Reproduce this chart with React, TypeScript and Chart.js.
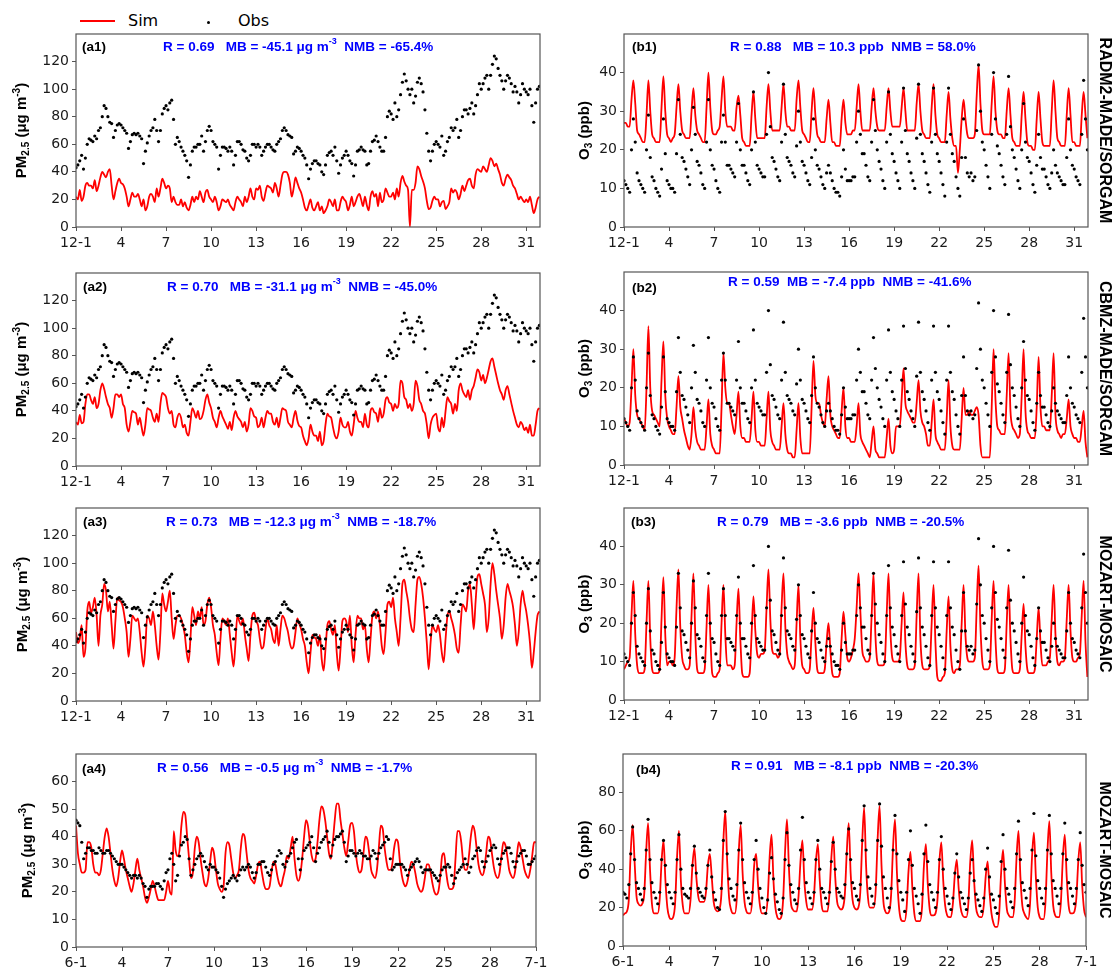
import React, { useEffect, useRef } from "react";
import { Chart, registerables } from "chart.js";

Chart.register(...registerables);

// ---------- data (3-hourly values, hours 0,3,...,21 of each day) ----------
const STEP_H = 3;
const DEC_XMAX = 742;
const JUN_XMAX = 720;
const X_TICK_VALUES = [0, 72, 144, 216, 288, 360, 432, 504, 576, 648, 720];
const DEC_TICK_LABELS = ["12-1", "4", "7", "10", "13", "16", "19", "22", "25", "28", "31"];
const JUN_TICK_LABELS = ["6-1", "4", "7", "10", "13", "16", "19", "22", "25", "28", "7-1"];
const PM_DEC_TICKS = [0, 20, 40, 60, 80, 100, 120];
const O3_DEC_TICKS = [0, 10, 20, 30, 40];
const PM_JUN_TICKS = [0, 10, 20, 30, 40, 50, 60];
const O3_JUN_TICKS = [0, 20, 40, 60, 80];

const PM_OBS_DEC = [
  43, 45, 48, 52, 42, 50, 60, 64,
  63, 62, 66, 64, 70, 72, 80, 88,
  86, 80, 76, 75, 65, 70, 74, 75,
  74, 72, 70, 68, 57, 62, 67, 68,
  67, 68, 66, 64, 46, 55, 61, 66,
  70, 72, 78, 70, 62, 70, 82, 86,
  88, 85, 90, 92, 78, 60, 65, 62,
  58, 55, 52, 48, 36, 45, 55, 58,
  58, 60, 60, 66, 55, 62, 70, 73,
  70, 62, 60, 58, 42, 52, 58, 58,
  57, 55, 58, 55, 45, 52, 62, 62,
  60, 56, 55, 50, 48, 52, 60, 60,
  58, 60, 58, 52, 55, 58, 60, 60,
  58, 56, 55, 60, 62, 64, 70, 72,
  70, 67, 66, 65, 53, 55, 58, 57,
  55, 52, 50, 45, 35, 42, 46, 48,
  48, 46, 45, 40, 38, 45, 52, 54,
  55, 52, 58, 48, 39, 45, 50, 52,
  55, 52, 48, 46, 37, 45, 55, 56,
  58, 56, 55, 45, 46, 55, 62, 63,
  66, 62, 58, 55, 55, 65, 80, 84,
  82, 78, 90, 80, 85, 96, 105, 111,
  106, 100, 96, 100, 90, 95, 105, 108,
  104, 98, 85, 68, 55, 48, 55, 60,
  62, 60, 58, 66, 52, 55, 62, 65,
  72, 70, 72, 78, 65, 70, 80, 85,
  85, 82, 86, 90, 82, 88, 96, 104,
  100, 104, 108, 110, 100, 110, 118, 124,
  122, 115, 110, 106, 100, 106, 110, 108,
  104, 98, 102, 98, 90, 96, 104, 100,
  98, 96, 100, 88, 76, 90, 100, 102,
];

const PM_SIM_RADM2 = [
  22, 20, 27, 19, 22, 30, 32, 30,
  30, 28, 34, 26, 30, 36, 40, 38,
  36, 40, 42, 30, 20, 26, 32, 35,
  32, 31, 28, 22, 15, 20, 25, 22,
  22, 24, 20, 15, 20, 12, 15, 22,
  24, 22, 18, 28, 22, 28, 35, 32,
  28, 30, 28, 18, 22, 18, 16, 16,
  20, 15, 18, 14, 12, 16, 22, 18,
  22, 20, 26, 22, 18, 25, 27, 22,
  20, 18, 22, 18, 12, 15, 20, 19,
  18, 20, 16, 14, 12, 18, 22, 20,
  18, 15, 22, 18, 22, 28, 22, 20,
  28, 27, 30, 22, 19, 25, 30, 29,
  28, 25, 32, 28, 22, 30, 38, 40,
  40, 38, 32, 22, 28, 36, 32, 28,
  25, 20, 14, 12, 16, 20, 14, 12,
  15, 18, 12, 15, 10, 12, 15, 20,
  18, 15, 20, 12, 12, 18, 22, 20,
  18, 12, 16, 22, 15, 18, 22, 24,
  20, 15, 22, 16, 12, 22, 26, 22,
  24, 15, 25, 18, 20, 28, 25, 22,
  22, 25, 20, 28, 22, 32, 37, 33,
  30, 27, 0, 27, 27, 32, 44, 42,
  37, 33, 28, 19, 13, 14, 19, 22,
  20, 20, 15, 18, 19, 13, 15, 18,
  28, 25, 27, 25, 20, 24, 30, 26,
  30, 34, 35, 30, 28, 38, 42, 41,
  40, 44, 42, 40, 45, 50, 48, 44,
  46, 42, 38, 32, 30, 35, 38, 36,
  34, 30, 28, 24, 20, 22, 20, 18,
  20, 18, 22, 16, 10, 14, 20, 22,
];

const PM_SIM_CBMZ = [
  32, 30, 37, 31, 32, 45, 52, 52,
  48, 45, 50, 42, 45, 55, 60, 56,
  50, 45, 42, 35, 42, 52, 52, 50,
  52, 45, 42, 30, 25, 32, 40, 39,
  38, 30, 35, 28, 22, 30, 42, 41,
  40, 35, 32, 38, 32, 45, 53, 52,
  50, 42, 38, 40, 30, 28, 35, 38,
  35, 28, 30, 24, 22, 32, 42, 39,
  35, 40, 34, 35, 40, 48, 52, 46,
  42, 35, 32, 28, 35, 40, 36, 33,
  30, 27, 32, 26, 35, 40, 36, 34,
  32, 28, 32, 25, 30, 42, 40, 36,
  35, 28, 30, 35, 28, 35, 40, 38,
  38, 32, 30, 35, 28, 35, 42, 41,
  40, 32, 30, 28, 35, 40, 33, 29,
  28, 22, 18, 15, 20, 30, 25, 22,
  22, 18, 25, 15, 18, 30, 38, 36,
  35, 28, 22, 20, 25, 35, 30, 28,
  28, 32, 25, 22, 30, 40, 35, 32,
  32, 28, 38, 30, 28, 40, 42, 39,
  38, 32, 42, 35, 38, 48, 50, 46,
  45, 40, 45, 42, 45, 62, 60, 50,
  48, 42, 45, 40, 45, 62, 58, 48,
  45, 40, 38, 30, 20, 30, 35, 37,
  38, 28, 25, 35, 28, 40, 50, 47,
  45, 38, 45, 40, 55, 60, 55, 52,
  50, 55, 48, 55, 58, 64, 70, 68,
  62, 66, 60, 64, 70, 76, 78, 72,
  66, 60, 55, 52, 48, 55, 58, 52,
  46, 40, 35, 30, 28, 32, 30, 26,
  28, 24, 30, 22, 22, 30, 40, 42,
];

const PM_SIM_MOZART = [
  50, 42, 45, 55, 32, 38, 65, 72,
  64, 68, 75, 62, 40, 62, 70, 85,
  80, 65, 72, 55, 38, 58, 75, 73,
  72, 68, 60, 50, 32, 45, 62, 60,
  58, 60, 50, 35, 25, 40, 62, 60,
  55, 65, 55, 40, 30, 50, 78, 70,
  65, 72, 80, 60, 45, 55, 62, 62,
  60, 55, 48, 35, 28, 45, 68, 62,
  55, 65, 60, 68, 55, 58, 70, 75,
  68, 55, 48, 35, 26, 45, 60, 58,
  55, 60, 48, 35, 25, 42, 62, 58,
  55, 60, 48, 38, 29, 48, 62, 64,
  58, 55, 45, 38, 40, 52, 60, 55,
  52, 45, 42, 55, 40, 52, 62, 60,
  55, 50, 42, 38, 40, 50, 60, 56,
  52, 45, 40, 28, 20, 35, 48, 46,
  45, 40, 48, 30, 22, 38, 55, 58,
  52, 48, 55, 35, 22, 38, 58, 60,
  58, 50, 62, 40, 28, 48, 62, 60,
  60, 52, 55, 38, 28, 45, 62, 65,
  60, 65, 55, 40, 34, 50, 70, 72,
  68, 75, 60, 50, 40, 60, 85, 88,
  80, 72, 60, 52, 50, 70, 88, 90,
  85, 75, 60, 42, 23, 42, 55, 52,
  50, 55, 48, 35, 28, 45, 62, 65,
  60, 55, 48, 38, 35, 55, 70, 68,
  65, 80, 85, 70, 52, 72, 90, 92,
  85, 78, 70, 50, 60, 85, 100, 92,
  80, 70, 60, 45, 55, 75, 85, 80,
  75, 68, 55, 40, 50, 70, 80, 72,
  65, 55, 42, 24, 35, 50, 62, 65,
];

const O3_OBS_DEC = [
  12, 11, 10, 9, 20, 28, 22, 14,
  12, 11, 10, 9, 20, 29, 18, 13,
  12, 10, 9, 8, 15, 28, 19, 12,
  11, 10, 10, 9, 19, 33, 24, 18,
  17, 15, 13, 11, 20, 31, 24, 17,
  16, 14, 11, 10, 22, 33, 20, 16,
  15, 12, 10, 9, 22, 29, 22, 16,
  16, 15, 14, 13, 22, 32, 20, 16,
  16, 14, 12, 11, 20, 35, 22, 16,
  15, 14, 13, 13, 24, 40, 26, 18,
  17, 15, 13, 12, 22, 37, 24, 18,
  17, 16, 14, 13, 21, 30, 22, 17,
  16, 14, 12, 11, 18, 28, 20, 16,
  15, 13, 11, 10, 14, 16, 14, 12,
  10, 9, 9, 8, 13, 20, 15, 12,
  12, 12, 13, 13, 22, 30, 24, 19,
  19, 16, 13, 12, 22, 33, 25, 20,
  17, 15, 12, 10, 22, 35, 24, 19,
  17, 14, 12, 10, 22, 36, 25, 19,
  17, 14, 12, 10, 23, 37, 24, 19,
  17, 14, 11, 9, 22, 36, 24, 19,
  17, 14, 11, 8, 22, 36, 24, 19,
  17, 13, 10, 8, 18, 28, 18, 14,
  13, 14, 12, 13, 25, 42, 30, 22,
  20, 16, 13, 10, 24, 40, 28, 21,
  19, 16, 13, 11, 24, 39, 26, 20,
  18, 15, 12, 10, 20, 32, 22, 18,
  17, 14, 11, 9, 16, 24, 18, 15,
  15, 13, 11, 10, 14, 20, 16, 14,
  13, 12, 11, 11, 18, 28, 20, 16,
  15, 13, 12, 11, 24, 38, 28, 20,
];

const O3_SIM_RADM2 = [
  27, 27, 26, 26, 33, 38, 32, 25,
  24, 23, 22, 22, 29, 38, 30, 24,
  23, 22, 22, 22, 31, 39, 30, 24,
  23, 22, 23, 24, 31, 37, 30, 25,
  24, 23, 23, 23, 30, 36, 29, 25,
  24, 23, 22, 22, 31, 40, 31, 25,
  24, 24, 25, 26, 33, 39, 30, 26,
  26, 26, 25, 25, 31, 34, 29, 23,
  22, 21, 21, 21, 29, 35, 28, 23,
  23, 23, 23, 23, 31, 37, 30, 25,
  25, 25, 25, 25, 31, 37, 30, 26,
  26, 25, 25, 25, 33, 38, 31, 25,
  24, 23, 22, 22, 30, 36, 29, 24,
  23, 22, 22, 22, 28, 33, 27, 22,
  22, 21, 21, 21, 28, 33, 27, 24,
  24, 24, 25, 25, 31, 37, 30, 25,
  25, 25, 25, 25, 31, 36, 30, 26,
  25, 25, 25, 25, 31, 36, 30, 26,
  26, 26, 26, 26, 31, 36, 30, 25,
  25, 25, 25, 25, 32, 37, 30, 25,
  24, 23, 23, 23, 31, 37, 29, 24,
  23, 22, 22, 22, 29, 35, 28, 23,
  21, 21, 14, 20, 28, 33, 28, 24,
  23, 23, 23, 24, 34, 42, 32, 25,
  24, 24, 24, 24, 32, 39, 30, 25,
  24, 24, 23, 23, 30, 36, 29, 23,
  22, 21, 21, 21, 29, 35, 28, 22,
  21, 21, 20, 20, 28, 35, 28, 22,
  21, 21, 21, 21, 30, 38, 30, 23,
  22, 21, 21, 21, 29, 36, 29, 22,
  22, 21, 21, 21, 29, 35, 29, 23,
];

const O3_SIM_CBMZ = [
  12, 11, 10, 11, 20, 30, 18, 13,
  12, 11, 10, 9, 20, 36, 20, 14,
  13, 12, 11, 10, 22, 32, 18, 12,
  10, 9, 8, 8, 15, 23, 15, 12,
  9, 7, 5, 4, 8, 15, 9, 6,
  5, 4, 4, 4, 10, 17, 8, 5,
  4, 3, 3, 3, 15, 29, 20, 16,
  16, 13, 10, 8, 13, 19, 10, 7,
  7, 6, 6, 6, 12, 19, 9, 6,
  6, 5, 5, 5, 12, 19, 9, 6,
  5, 4, 4, 4, 10, 16, 8, 4,
  3, 3, 2, 2, 9, 16, 7, 3,
  3, 3, 3, 3, 15, 27, 18, 16,
  16, 13, 11, 10, 17, 23, 13, 10,
  9, 8, 7, 7, 14, 20, 10, 7,
  7, 6, 6, 6, 10, 16, 8, 6,
  5, 4, 3, 2, 6, 10, 4, 3,
  2, 2, 2, 2, 7, 12, 5, 3,
  4, 10, 10, 10, 17, 25, 16, 14,
  13, 12, 11, 11, 16, 22, 14, 11,
  10, 8, 5, 5, 11, 17, 8, 6,
  5, 4, 4, 4, 12, 22, 10, 5,
  4, 4, 4, 4, 12, 20, 13, 13,
  14, 13, 13, 14, 15, 13, 5, 2,
  2, 2, 2, 2, 15, 30, 17, 10,
  9, 8, 8, 8, 18, 29, 14, 10,
  9, 8, 7, 8, 18, 30, 14, 9,
  8, 7, 7, 7, 15, 28, 15, 10,
  10, 9, 9, 9, 18, 29, 13, 9,
  8, 7, 8, 8, 12, 17, 10, 8,
  7, 7, 6, 6, 10, 14, 6, 2,
];

const O3_SIM_MOZART = [
  8, 9, 10, 11, 22, 31, 17, 9,
  7, 7, 7, 8, 20, 31, 16, 8,
  7, 7, 7, 8, 21, 32, 17, 9,
  10, 10, 9, 11, 24, 34, 19, 11,
  9, 8, 8, 9, 22, 33, 17, 8,
  7, 7, 7, 8, 19, 30, 17, 7,
  6, 6, 7, 8, 20, 30, 17, 9,
  9, 9, 8, 9, 20, 29, 16, 7,
  6, 6, 6, 7, 17, 27, 18, 12,
  11, 12, 12, 13, 24, 34, 21, 13,
  12, 12, 11, 12, 24, 33, 19, 12,
  10, 9, 8, 9, 20, 30, 16, 9,
  8, 7, 7, 8, 17, 24, 15, 8,
  7, 7, 7, 8, 15, 20, 13, 7,
  6, 6, 6, 7, 16, 23, 17, 11,
  10, 11, 13, 16, 24, 33, 23, 13,
  11, 10, 10, 11, 22, 33, 17, 10,
  9, 9, 9, 10, 22, 33, 18, 11,
  10, 10, 10, 11, 20, 28, 15, 9,
  8, 8, 8, 9, 22, 33, 16, 9,
  8, 8, 8, 9, 20, 30, 15, 6,
  5, 5, 6, 7, 18, 27, 14, 8,
  7, 8, 8, 9, 20, 30, 17, 11,
  10, 10, 10, 11, 24, 35, 19, 10,
  8, 8, 8, 9, 21, 31, 16, 8,
  7, 7, 7, 8, 20, 30, 16, 8,
  7, 7, 7, 8, 17, 25, 14, 8,
  7, 7, 7, 8, 16, 24, 15, 9,
  9, 9, 10, 11, 21, 30, 17, 10,
  9, 10, 10, 11, 21, 30, 18, 11,
  10, 10, 11, 12, 22, 31, 15, 6,
];

const PM_OBS_JUN = [
  46, 45, 44, 38, 32, 34, 36, 36,
  35, 35, 34, 34, 36, 35, 34, 34,
  35, 35, 34, 33, 32, 31, 30, 30,
  30, 29, 28, 27, 26, 25, 26, 26,
  25, 26, 25, 23, 22, 18, 21, 22,
  22, 22, 23, 23, 22, 21, 24, 27,
  28, 32, 34, 30, 24, 26, 33, 37,
  38, 40, 39, 32, 26, 28, 30, 32,
  33, 34, 33, 31, 29, 28, 30, 29,
  29, 28, 27, 25, 22, 18, 21, 23,
  24, 25, 26, 25, 24, 26, 28, 29,
  28, 29, 30, 29, 27, 25, 27, 30,
  30, 31, 31, 29, 27, 26, 28, 30,
  31, 33, 35, 34, 30, 29, 31, 33,
  34, 36, 38, 39, 32, 28, 32, 35,
  36, 37, 38, 40, 36, 31, 34, 36,
  38, 39, 40, 42, 38, 33, 37, 39,
  40, 40, 41, 42, 38, 31, 33, 35,
  35, 34, 33, 34, 35, 34, 33, 33,
  32, 32, 33, 35, 34, 32, 34, 36,
  37, 38, 40, 39, 32, 28, 29, 30,
  30, 30, 30, 29, 28, 26, 28, 29,
  30, 31, 32, 31, 29, 27, 28, 28,
  28, 28, 27, 26, 25, 24, 26, 28,
  29, 29, 30, 29, 26, 23, 25, 27,
  28, 29, 30, 32, 30, 27, 29, 32,
  33, 35, 36, 35, 31, 29, 31, 33,
  35, 36, 37, 36, 32, 30, 32, 34,
  35, 36, 36, 34, 31, 29, 31, 33,
  34, 35, 35, 33, 30, 30, 31, 32,
  33,
];

const PM_SIM_JUN = [
  44, 34, 30, 27, 27, 28, 38, 38,
  36, 30, 27, 27, 26, 28, 34, 40,
  43, 40, 34, 28, 24, 22, 25, 31,
  35, 32, 28, 25, 22, 20, 23, 28,
  32, 28, 25, 22, 18, 16, 18, 21,
  24, 22, 19, 17, 17, 17, 17, 20,
  24, 20, 19, 42, 35, 33, 35, 44,
  49, 48, 40, 32, 25, 27, 36, 40,
  38, 32, 27, 23, 22, 25, 31, 36,
  34, 28, 23, 21, 20, 22, 34, 38,
  37, 32, 27, 25, 26, 28, 36, 41,
  40, 34, 28, 25, 24, 23, 26, 30,
  31, 27, 23, 21, 21, 22, 27, 31,
  30, 26, 23, 22, 25, 28, 33, 32,
  36, 40, 32, 26, 24, 26, 32, 40,
  46, 44, 38, 33, 31, 32, 38, 46,
  51, 50, 46, 40, 34, 32, 38, 46,
  52, 52, 46, 41, 36, 33, 38, 44,
  45, 42, 34, 29, 27, 28, 34, 40,
  39, 34, 28, 26, 25, 28, 36, 44,
  43, 36, 31, 28, 28, 30, 36, 39,
  38, 31, 26, 23, 22, 24, 28, 31,
  30, 27, 23, 21, 20, 21, 25, 30,
  30, 27, 23, 20, 19, 20, 25, 33,
  34, 28, 23, 21, 21, 22, 32, 42,
  42, 38, 31, 28, 28, 33, 40, 44,
  42, 36, 30, 27, 26, 28, 34, 40,
  39, 34, 29, 26, 25, 27, 33, 38,
  37, 33, 28, 26, 25, 27, 33, 38,
  36, 32, 28, 26, 25, 28, 33, 38,
  38,
];

const O3_OBS_JUN = [
  28, 27, 25, 32, 48, 62, 45, 33,
  30, 27, 24, 30, 50, 66, 45, 33,
  28, 25, 22, 28, 45, 55, 42, 32,
  28, 25, 22, 28, 45, 58, 40, 30,
  27, 26, 25, 30, 42, 52, 38, 30,
  28, 26, 25, 30, 42, 50, 36, 28,
  24, 20, 19, 30, 55, 70, 48, 35,
  30, 26, 24, 32, 50, 64, 45, 33,
  28, 25, 22, 28, 45, 55, 40, 30,
  25, 20, 17, 24, 38, 46, 35, 27,
  23, 19, 17, 25, 45, 59, 42, 32,
  28, 24, 22, 30, 50, 67, 45, 33,
  28, 25, 22, 28, 45, 55, 40, 30,
  28, 25, 22, 28, 44, 54, 40, 30,
  28, 26, 25, 32, 48, 61, 45, 33,
  30, 26, 24, 32, 55, 73, 50, 36,
  30, 26, 22, 32, 55, 74, 52, 36,
  30, 25, 20, 30, 50, 68, 48, 34,
  28, 24, 18, 28, 45, 60, 42, 30,
  26, 22, 17, 27, 48, 63, 44, 32,
  28, 24, 20, 28, 45, 57, 40, 30,
  26, 22, 19, 25, 38, 48, 36, 28,
  25, 22, 19, 25, 38, 45, 34, 27,
  24, 21, 18, 25, 40, 51, 36, 27,
  24, 20, 17, 26, 44, 58, 40, 30,
  27, 23, 20, 30, 48, 65, 45, 33,
  29, 25, 21, 30, 50, 69, 47, 34,
  30, 25, 22, 30, 50, 68, 48, 34,
  30, 26, 22, 30, 48, 64, 45, 33,
  30, 26, 22, 30, 45, 59, 42, 32,
  28,
];

const O3_SIM_JUN = [
  16, 17, 18, 24, 49, 63, 44, 26,
  22, 21, 22, 27, 49, 64, 40, 22,
  17, 17, 17, 24, 44, 55, 34, 20,
  15, 14, 15, 22, 46, 60, 34, 21,
  17, 17, 17, 24, 42, 51, 36, 26,
  23, 23, 23, 28, 42, 48, 36, 23,
  19, 18, 19, 27, 54, 70, 44, 25,
  19, 17, 17, 25, 49, 63, 38, 23,
  18, 17, 17, 24, 42, 48, 32, 21,
  17, 17, 17, 25, 46, 58, 34, 20,
  15, 14, 15, 24, 49, 66, 41, 23,
  19, 18, 18, 26, 44, 55, 34, 23,
  19, 19, 19, 26, 44, 53, 34, 21,
  18, 18, 18, 27, 46, 57, 36, 23,
  20, 19, 20, 27, 49, 64, 38, 24,
  20, 19, 20, 28, 54, 72, 42, 25,
  20, 20, 20, 29, 56, 73, 42, 23,
  18, 17, 18, 27, 52, 66, 38, 21,
  14, 13, 13, 20, 39, 49, 30, 17,
  13, 13, 13, 20, 42, 53, 32, 19,
  16, 16, 17, 24, 44, 54, 34, 21,
  16, 15, 15, 22, 37, 45, 30, 20,
  16, 15, 15, 22, 44, 55, 34, 20,
  16, 15, 15, 21, 36, 44, 28, 17,
  12, 10, 10, 17, 38, 50, 32, 19,
  16, 15, 15, 23, 46, 60, 36, 21,
  17, 15, 14, 22, 46, 59, 36, 20,
  15, 14, 14, 23, 49, 65, 38, 21,
  16, 15, 15, 23, 46, 58, 36, 21,
  17, 17, 18, 25, 44, 54, 32, 19,
  15,
];

const R_VALUES = ["0.69", "0.70", "0.73", "0.56", "0.88", "0.59", "0.79", "0.91"];
const MB_VALUES = ["-45.1", "-31.1", "-12.3", "-0.5", "10.3", "-7.4", "-3.6", "-8.1"];
const NMB_VALUES = ["-65.4", "-45.0", "-18.7", "-1.7", "58.0", "-41.6", "-20.5", "-20.3"];
const MODEL_NAMES = ["RADM2-MADE/SORGAM", "CBMZ-MADE/SORGAM", "MOZART-MOSAIC", "MOZART-MOSAIC"];

// ---------- styling ----------
const BOLD_FAMILY = '"Liberation Sans", Arial, sans-serif';
const TICK_FAMILY = '"DejaVu Sans", sans-serif';
const FRAME = "#555555";
const TICK_COLOR = "#1a1a1a";
const PADL = 75;
const PADT = 12;
const PADB = 28;

type Part = { t: string; s: number; dy?: number };

function drawRich(
  ctx: CanvasRenderingContext2D,
  parts: Part[],
  x: number,
  y: number,
  color: string,
  align: "left" | "center",
  rot: number
) {
  ctx.save();
  ctx.translate(x, y);
  if (rot) ctx.rotate(rot);
  ctx.fillStyle = color;
  ctx.textBaseline = "middle";
  ctx.textAlign = "left";
  let total = 0;
  const widths = parts.map((p) => {
    ctx.font = `bold ${p.s}px ${BOLD_FAMILY}`;
    const w = ctx.measureText(p.t).width;
    total += w;
    return w;
  });
  let cx = align === "center" ? -total / 2 : 0;
  parts.forEach((p, i) => {
    ctx.font = `bold ${p.s}px ${BOLD_FAMILY}`;
    ctx.fillText(p.t, cx, p.dy || 0);
    cx += widths[i];
  });
  ctx.restore();
}

const PM_TITLE: Part[] = [
  { t: "PM", s: 15 },
  { t: "2.5", s: 10, dy: 4 },
  { t: " (\u03bcg m", s: 15 },
  { t: "-3", s: 10, dy: -5 },
  { t: ")", s: 15 },
];
const O3_TITLE: Part[] = [
  { t: "O", s: 15 },
  { t: "3", s: 10, dy: 4 },
  { t: " (ppb)", s: 15 },
];

function pmStats(i: number): Part[] {
  return [
    { t: `R = ${R_VALUES[i]}   MB = ${MB_VALUES[i]} \u03bcg m`, s: 13.5 },
    { t: "-3", s: 9, dy: -5 },
    { t: `  NMB = ${NMB_VALUES[i]}%`, s: 13.5 },
  ];
}
function o3Stats(i: number, gap: string): Part[] {
  return [{ t: `R = ${R_VALUES[i]}${gap}MB = ${MB_VALUES[i]} ppb  NMB = ${NMB_VALUES[i]}%`, s: 13.5 }];
}

interface PanelSpec {
  key: string;
  plotLeft: number;
  plotTop: number;
  plotW: number;
  plotH: number;
  padR: number;
  xMax: number;
  xLabels: string[];
  yMax: number;
  yTicks: number[];
  obs: number[];
  sim: number[];
  label: string;
  labelX: number;
  labelY: number;
  stats: Part[];
  statsX: number;
  statsY: number;
  yTitle: Part[];
  yTitleX: number;
  model?: string;
}

const PANELS: PanelSpec[] = [
  { key: "a1", plotLeft: 76, plotTop: 34, plotW: 464, plotH: 193, padR: 20, xMax: DEC_XMAX, xLabels: DEC_TICK_LABELS, yMax: 140, yTicks: PM_DEC_TICKS, obs: PM_OBS_DEC, sim: PM_SIM_RADM2, label: "(a1)", labelX: 82, labelY: 47, stats: pmStats(0), statsX: 163, statsY: 47, yTitle: PM_TITLE, yTitleX: 22 },
  { key: "a2", plotLeft: 76, plotTop: 273, plotW: 464, plotH: 193, padR: 20, xMax: DEC_XMAX, xLabels: DEC_TICK_LABELS, yMax: 140, yTicks: PM_DEC_TICKS, obs: PM_OBS_DEC, sim: PM_SIM_CBMZ, label: "(a2)", labelX: 83, labelY: 287, stats: pmStats(1), statsX: 167, statsY: 287, yTitle: PM_TITLE, yTitleX: 22 },
  { key: "a3", plotLeft: 76, plotTop: 508, plotW: 464, plotH: 193, padR: 20, xMax: DEC_XMAX, xLabels: DEC_TICK_LABELS, yMax: 140, yTicks: PM_DEC_TICKS, obs: PM_OBS_DEC, sim: PM_SIM_MOZART, label: "(a3)", labelX: 83, labelY: 522, stats: pmStats(2), statsX: 166, statsY: 522, yTitle: PM_TITLE, yTitleX: 23 },
  { key: "a4", plotLeft: 76, plotTop: 754, plotW: 460, plotH: 193, padR: 20, xMax: JUN_XMAX, xLabels: JUN_TICK_LABELS, yMax: 70, yTicks: PM_JUN_TICKS, obs: PM_OBS_JUN, sim: PM_SIM_JUN, label: "(a4)", labelX: 82, labelY: 769, stats: pmStats(3), statsX: 157, statsY: 768, yTitle: PM_TITLE, yTitleX: 28 },
  { key: "b1", plotLeft: 624, plotTop: 34, plotW: 464, plotH: 193, padR: 25, xMax: DEC_XMAX, xLabels: DEC_TICK_LABELS, yMax: 50, yTicks: O3_DEC_TICKS, obs: O3_OBS_DEC, sim: O3_SIM_RADM2, label: "(b1)", labelX: 632, labelY: 47, stats: o3Stats(4, "   "), statsX: 730, statsY: 47, yTitle: O3_TITLE, yTitleX: 585, model: MODEL_NAMES[0] },
  { key: "b2", plotLeft: 624, plotTop: 272, plotW: 464, plotH: 193, padR: 25, xMax: DEC_XMAX, xLabels: DEC_TICK_LABELS, yMax: 50, yTicks: O3_DEC_TICKS, obs: O3_OBS_DEC, sim: O3_SIM_CBMZ, label: "(b2)", labelX: 632, labelY: 288, stats: o3Stats(5, "  "), statsX: 728, statsY: 282, yTitle: O3_TITLE, yTitleX: 585, model: MODEL_NAMES[1] },
  { key: "b3", plotLeft: 624, plotTop: 508, plotW: 464, plotH: 192, padR: 25, xMax: DEC_XMAX, xLabels: DEC_TICK_LABELS, yMax: 50, yTicks: O3_DEC_TICKS, obs: O3_OBS_DEC, sim: O3_SIM_MOZART, label: "(b3)", labelX: 631, labelY: 522, stats: o3Stats(6, "   "), statsX: 717, statsY: 522, yTitle: O3_TITLE, yTitleX: 585, model: MODEL_NAMES[2] },
  { key: "b4", plotLeft: 623, plotTop: 754, plotW: 463, plotH: 192, padR: 25, xMax: JUN_XMAX, xLabels: JUN_TICK_LABELS, yMax: 100, yTicks: O3_JUN_TICKS, obs: O3_OBS_JUN, sim: O3_SIM_JUN, label: "(b4)", labelX: 636, labelY: 770, stats: o3Stats(7, "   "), statsX: 731, statsY: 766, yTitle: O3_TITLE, yTitleX: 585, model: MODEL_NAMES[3] },
];

function Panel({ spec }: { spec: PanelSpec }) {
  const ref = useRef<HTMLCanvasElement>(null);
  const cw = Math.round(PADL + spec.plotW + spec.padR);
  const ch = Math.round(PADT + spec.plotH + PADB);
  const cLeft = spec.plotLeft - PADL;
  const cTop = spec.plotTop - PADT;

  useEffect(() => {
    const canvas = ref.current;
    if (!canvas) return;
    const toPts = (arr: number[]) => arr.map((v, i) => ({ x: i * STEP_H, y: v }));
    const decor = {
      id: "decor",
      afterDraw(chart: any) {
        const ctx: CanvasRenderingContext2D = chart.ctx;
        const a = chart.chartArea;
        ctx.save();
        ctx.strokeStyle = FRAME;
        ctx.lineWidth = 1.2;
        ctx.strokeRect(a.left, a.top, a.right - a.left, a.bottom - a.top);
        ctx.restore();
        const midY = (a.top + a.bottom) / 2;
        drawRich(ctx, [{ t: spec.label, s: 13.5 }], spec.labelX - cLeft, spec.labelY - cTop, "#000", "left", 0);
        drawRich(ctx, spec.stats, spec.statsX - cLeft, spec.statsY - cTop, "#0000ff", "left", 0);
        drawRich(ctx, spec.yTitle, spec.yTitleX - cLeft, midY, "#000", "center", -Math.PI / 2);
        if (spec.model) {
          drawRich(ctx, [{ t: spec.model, s: 16 }], 1104 - cLeft, midY, "#000", "center", Math.PI / 2);
        }
      },
    };
    const chart = new Chart(canvas, {
      type: "scatter",
      data: {
        datasets: [
          {
            label: "Obs",
            data: toPts(spec.obs),
            showLine: false,
            pointRadius: 1.6,
            pointHoverRadius: 1.6,
            pointBackgroundColor: "#000",
            pointBorderWidth: 0,
            order: 0,
          },
          {
            label: "Sim",
            data: toPts(spec.sim),
            showLine: true,
            borderColor: "#ff0000",
            borderWidth: 1.8,
            pointRadius: 0,
            pointHoverRadius: 0,
            cubicInterpolationMode: "monotone",
            order: 1,
          },
        ],
      } as any,
      options: {
        animation: false,
        responsive: false,
        devicePixelRatio: 1,
        events: [],
        layout: { padding: { left: 0, top: PADT, right: spec.padR, bottom: 0 } },
        plugins: { legend: { display: false }, tooltip: { enabled: false } },
        scales: {
          x: {
            type: "linear",
            min: 0,
            max: spec.xMax,
            afterBuildTicks: (s: any) => {
              s.ticks = X_TICK_VALUES.map((v) => ({ value: v }));
            },
            afterFit: (s: any) => {
              s.height = PADB;
            },
            ticks: {
              autoSkip: false,
              maxRotation: 0,
              minRotation: 0,
              padding: 4,
              color: TICK_COLOR,
              font: { family: TICK_FAMILY, size: 14 },
              callback: (v: any) => {
                const idx = X_TICK_VALUES.indexOf(Number(v));
                return idx >= 0 ? spec.xLabels[idx] : "";
              },
            },
            grid: { display: true, drawOnChartArea: false, drawTicks: true, tickLength: 4, color: FRAME, lineWidth: 1 },
            border: { display: false },
          },
          y: {
            type: "linear",
            min: 0,
            max: spec.yMax,
            afterBuildTicks: (s: any) => {
              s.ticks = spec.yTicks.map((v) => ({ value: v }));
            },
            afterFit: (s: any) => {
              s.width = PADL;
            },
            ticks: {
              padding: 3,
              color: TICK_COLOR,
              font: { family: TICK_FAMILY, size: 14 },
              callback: (v: any) => String(v),
            },
            grid: { display: true, drawOnChartArea: false, drawTicks: true, tickLength: 4, color: FRAME, lineWidth: 1 },
            border: { display: false },
          },
        },
      } as any,
      plugins: [decor],
    });
    return () => chart.destroy();
  }, []);

  return (
    <canvas
      ref={ref}
      width={cw}
      height={ch}
      style={{ position: "absolute", left: cLeft, top: cTop, width: cw, height: ch }}
    />
  );
}

export default function App() {
  const legendFont: React.CSSProperties = {
    position: "absolute",
    top: 11,
    fontFamily: '"DejaVu Sans", sans-serif',
    fontSize: 16,
    lineHeight: "20px",
    color: "#000",
    whiteSpace: "nowrap",
  };
  return (
    <div
      style={{
        position: "absolute",
        left: 0,
        top: 0,
        width: 1113,
        height: 974,
        overflow: "hidden",
        background: "#fff",
      }}
    >
      <div style={{ position: "absolute", left: 80, top: 20, width: 35, height: 2, background: "#ff0000" }} />
      <span style={{ ...legendFont, left: 128 }}>Sim</span>
      <div style={{ position: "absolute", left: 207, top: 21, width: 3, height: 3, borderRadius: "50%", background: "#000" }} />
      <span style={{ ...legendFont, left: 238 }}>Obs</span>
      {PANELS.map((p) => (
        <Panel key={p.key} spec={p} />
      ))}
    </div>
  );
}
